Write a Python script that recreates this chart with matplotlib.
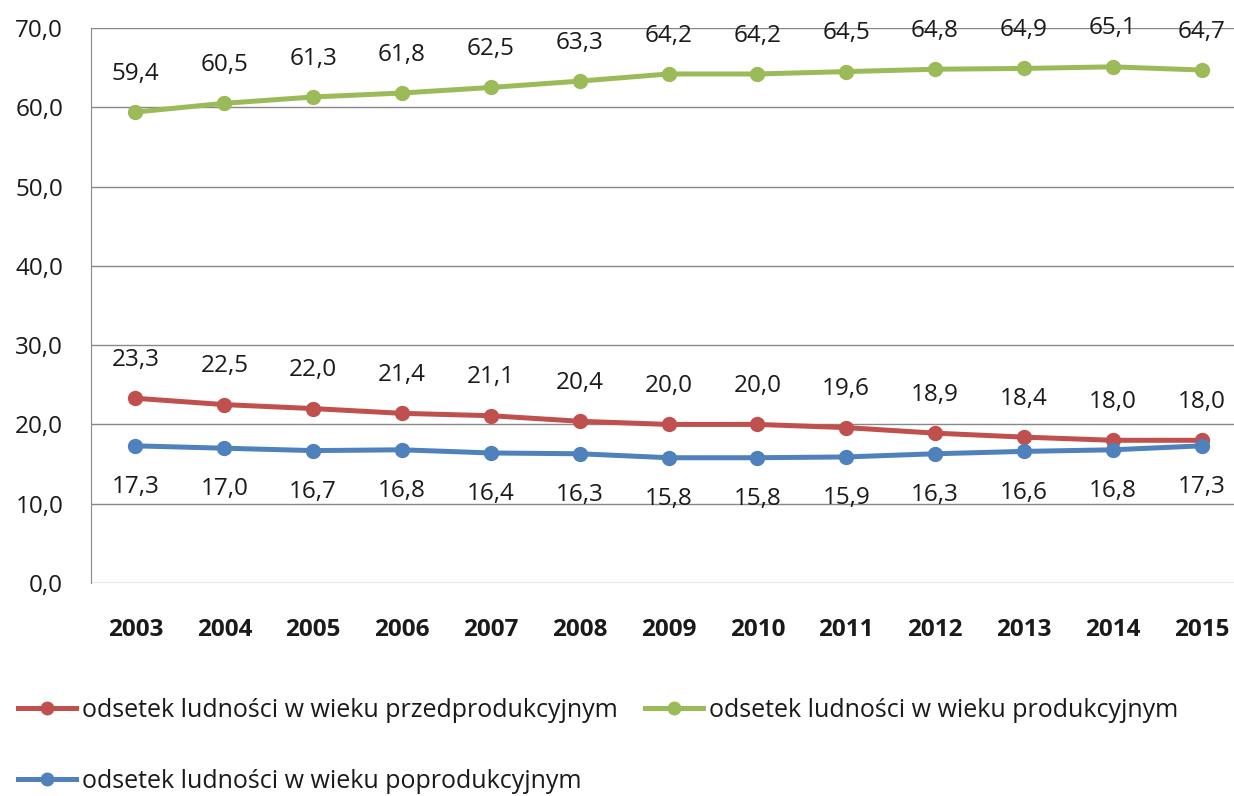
import matplotlib
matplotlib.use("Agg")
import matplotlib.pyplot as plt
from matplotlib.lines import Line2D

plt.rcParams['font.family'] = ['Open Sans', 'DejaVu Sans']

years = ["2003", "2004", "2005", "2006", "2007", "2008", "2009", "2010", "2011", "2012", "2013", "2014", "2015"]
przed = [23.3, 22.5, 22.0, 21.4, 21.1, 20.4, 20.0, 20.0, 19.6, 18.9, 18.4, 18.0, 18.0]
prod = [59.4, 60.5, 61.3, 61.8, 62.5, 63.3, 64.2, 64.2, 64.5, 64.8, 64.9, 65.1, 64.7]
poprod = [17.3, 17.0, 16.7, 16.8, 16.4, 16.3, 15.8, 15.8, 15.9, 16.3, 16.6, 16.8, 17.3]
names = ["odsetek ludności w wieku przedprodukcyjnym",
         "odsetek ludności w wieku produkcyjnym",
         "odsetek ludności w wieku poprodukcyjnym"]
colors = ["#C0504D", "#9BBB59", "#4F81BD"]

W, H = 1234, 796
fig = plt.figure(figsize=(W / 100, H / 100), dpi=100)
left, right, top, bottom = 91, 1246, 28, 583
ax = fig.add_axes([left / W, 1 - bottom / H, (right - left) / W, (bottom - top) / H])

x = list(range(len(years)))
fs = 17.5
series = [przed, prod, poprod]
offsets = [19, 19, -21]
for vals, c, name, off in zip(series, colors, names, offsets):
    ax.plot(x, vals, color=c, lw=3.6, marker='o', markersize=10, label=name, zorder=3)
    for xi, v in zip(x, vals):
        ax.annotate(f"{v:.1f}".replace('.', ','), (xi, v), xytext=(0, off),
                    textcoords='offset points', ha='center',
                    va='bottom' if off > 0 else 'top', fontsize=fs, color='#1a1a1a')

ax.set_xlim(-0.5, len(years) - 0.5)
ax.set_ylim(0, 70)
ax.set_yticks(range(0, 71, 10))
ax.set_yticklabels([f"{v:.1f}".replace('.', ',') for v in range(0, 71, 10)], fontsize=fs)
ax.set_xticks(x)
ax.set_xticklabels(years, fontsize=17.5, fontweight='bold')
ax.tick_params(axis='both', length=0, colors='#1a1a1a')
ax.tick_params(axis='x', pad=25)
ax.tick_params(axis='y', pad=20)
ax.grid(axis='y', color='#888888', lw=1)
ax.set_axisbelow(True)
for s in ['top', 'right', 'bottom']:
    ax.spines[s].set_visible(False)
ax.spines['left'].set_color('#888888')

handles = [Line2D([], [], color=c, lw=3.6, marker='o', markersize=9) for c in colors]
order = [0, 2, 1]
leg = fig.legend([handles[i] for i in order], [names[i] for i in order],
                 loc='upper left', bbox_to_anchor=(18 / W, 1 - 698 / H), ncol=2,
                 frameon=False, fontsize=18, handlelength=2.3, handletextpad=0.25,
                 labelspacing=1.84, columnspacing=1.1, borderpad=0, borderaxespad=0)
for t in leg.get_texts():
    t.set_color('#1a1a1a')

fig.savefig("out.png", dpi=100)
